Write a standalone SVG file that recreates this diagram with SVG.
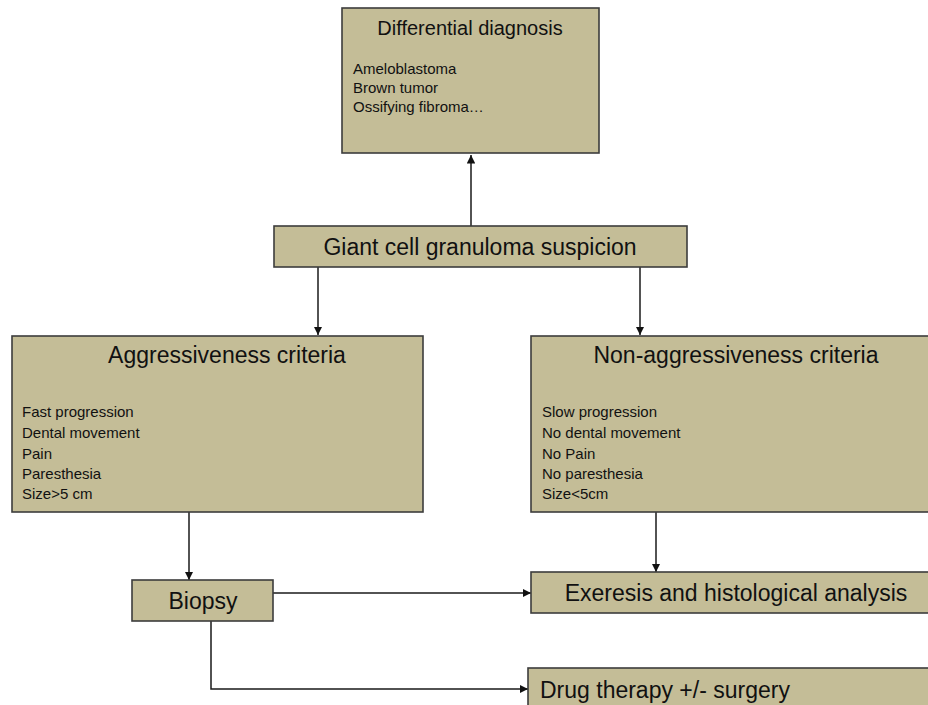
<svg xmlns="http://www.w3.org/2000/svg" width="928" height="705" viewBox="0 0 928 705">
<style>
.box{fill:#c4bd97;stroke:#3c3c3c;stroke-width:1.6}
.t{font-family:"Liberation Sans",Arial,sans-serif;fill:#111}
.h{font-size:23px;text-anchor:middle}
.l{font-size:15px}
.c{fill:none;stroke:#1a1a1a;stroke-width:1.5}
</style>
<defs>
<marker id="ah" viewBox="0 0 10 10" refX="10" refY="5" markerWidth="8.5" markerHeight="8.5" markerUnits="userSpaceOnUse" orient="auto">
<path d="M0,0 L10,5 L0,10 Z" fill="#111"/>
</marker>
</defs>
<rect width="928" height="705" fill="#fff"/>
<g id="connectors">
<path class="c" d="M471,226 V155" marker-end="url(#ah)"/>
<path class="c" d="M318,267 V335" marker-end="url(#ah)"/>
<path class="c" d="M640,267 V335" marker-end="url(#ah)"/>
<path class="c" d="M189,512 V580" marker-end="url(#ah)"/>
<path class="c" d="M656,512 V572" marker-end="url(#ah)"/>
<path class="c" d="M273,593 H531" marker-end="url(#ah)"/>
<path class="c" d="M211,621 V689 H528" marker-end="url(#ah)"/>
</g>
<g id="differential">
<rect class="box" x="342" y="8" width="257" height="145"/>
<text class="t" x="470" y="35" font-size="20" text-anchor="middle">Differential diagnosis</text>
<text class="t l" x="353" y="74" font-size="14.3">Ameloblastoma</text>
<text class="t l" x="353" y="93" font-size="14.3">Brown tumor</text>
<text class="t l" x="353" y="112" font-size="14.3">Ossifying fibroma…</text>
</g>
<g id="giant">
<rect class="box" x="274" y="226" width="413" height="41"/>
<text class="t h" x="480" y="255">Giant cell granuloma suspicion</text>
</g>
<g id="aggressive">
<rect class="box" x="12" y="336" width="411" height="176"/>
<text class="t h" x="227" y="363" font-size="22.5">Aggressiveness criteria</text>
<text class="t l" x="22" y="417">Fast progression</text>
<text class="t l" x="22" y="438">Dental movement</text>
<text class="t l" x="22" y="458.5">Pain</text>
<text class="t l" x="22" y="479">Paresthesia</text>
<text class="t l" x="22" y="499">Size&gt;5 cm</text>
</g>
<g id="nonaggressive">
<rect class="box" x="531" y="336" width="410" height="176"/>
<text class="t h" x="736" y="363" font-size="22.5">Non-aggressiveness criteria</text>
<text class="t l" x="542" y="417">Slow progression</text>
<text class="t l" x="542" y="438">No dental movement</text>
<text class="t l" x="542" y="458.5">No Pain</text>
<text class="t l" x="542" y="479">No paresthesia</text>
<text class="t l" x="542" y="499">Size&lt;5cm</text>
</g>
<g id="biopsy">
<rect class="box" x="132" y="580" width="141" height="41"/>
<text class="t h" x="203" y="609" font-size="22">Biopsy</text>
</g>
<g id="exeresis">
<rect class="box" x="531" y="572" width="410" height="41"/>
<text class="t h" x="736" y="601" font-size="22.5">Exeresis and histological analysis</text>
</g>
<g id="drug">
<rect class="box" x="528" y="668" width="413" height="60"/>
<text class="t" x="540" y="698" font-size="23">Drug therapy +/- surgery</text>
</g>
</svg>
